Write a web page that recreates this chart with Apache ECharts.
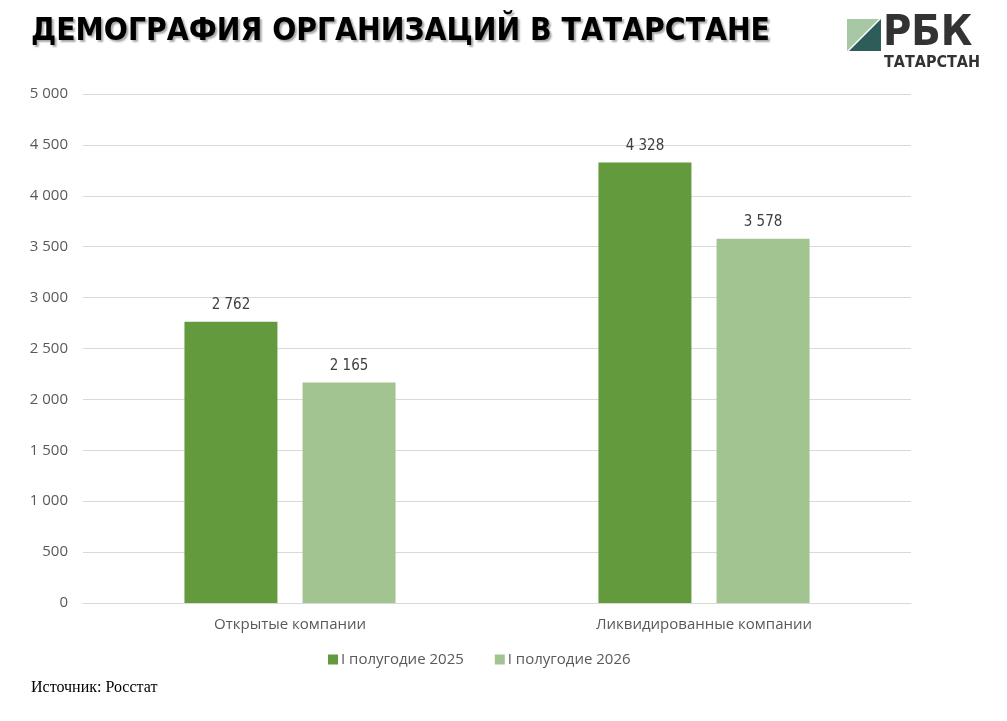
<!DOCTYPE html>
<html>
<head>
<meta charset="utf-8">
<script src="https://cdn.jsdelivr.net/npm/echarts@6/dist/echarts.min.js"></script>
<style>
  html, body { margin: 0; padding: 0; background: #fff; }
  #chart { width: 1007px; height: 721px; }
</style>
</head>
<body>
<div id="chart"></div>
<script>
// категории и значения
const categories = ['Открытые компании', 'Ликвидированные компании'];
const seriesNames = ['I полугодие 2025', 'I полугодие 2026'];
const values2025 = [2762, 4328];
const values2026 = [2165, 3578];
const seriesColors = ['#629a3d', '#a1c490'];

// разделитель тысяч пробелом
const fmt = v => String(v).replace(/\B(?=(\d{3})+(?!\d))/g, ' ');

const chart = echarts.init(document.getElementById('chart'), null, { renderer: 'canvas' });

const labelStyle = {
  show: true,
  position: 'top',
  distance: 9,
  color: '#404040',
  fontFamily: '"DejaVu Sans Condensed", sans-serif',
  fontSize: 15,
  formatter: p => fmt(p.value)
};

const option = {
  backgroundColor: '#fff',
  animation: false,
  grid: { left: 83, right: 96, top: 94, bottom: 118 },
  legend: {
    left: 323,
    top: 647,
    itemWidth: 10,
    itemHeight: 10,
    itemGap: 31,
    icon: 'rect',
    textStyle: { color: '#595959', fontSize: 15, fontFamily: '"Open Sans", sans-serif', padding: [0, 0, 0, -2] },
    data: seriesNames
  },
  xAxis: {
    type: 'category',
    data: categories,
    axisLine: { lineStyle: { color: '#d9d9d9' } },
    axisTick: { show: false },
    axisLabel: { color: '#595959', fontSize: 15, margin: 14, fontFamily: '"Open Sans", sans-serif' }
  },
  yAxis: {
    type: 'value',
    min: 0,
    max: 5000,
    interval: 500,
    axisLine: { show: false },
    axisTick: { show: false },
    splitLine: { lineStyle: { color: '#d9d9d9' } },
    axisLabel: { color: '#595959', fontSize: 15, margin: 15, fontFamily: '"Open Sans", sans-serif', formatter: v => fmt(v) }
  },
  series: [
    {
      name: seriesNames[0],
      type: 'bar',
      data: values2025,
      barWidth: 93,
      barGap: '27%',
      itemStyle: { color: seriesColors[0] },
      label: labelStyle
    },
    {
      name: seriesNames[1],
      type: 'bar',
      data: values2026,
      barWidth: 93,
      itemStyle: { color: seriesColors[1] },
      label: labelStyle
    }
  ],
  graphic: [
    // заголовок
    {
      type: 'text',
      left: 31,
      top: 16,
      style: {
        text: 'ДЕМОГРАФИЯ ОРГАНИЗАЦИЙ В ТАТАРСТАНЕ',
        fill: '#000',
        font: 'bold 31.5px "DejaVu Sans Condensed", sans-serif',
        textShadowColor: 'rgba(0,0,0,0.35)',
        textShadowOffsetX: 2,
        textShadowOffsetY: 2,
        textShadowBlur: 2
      }
    },
    // логотип РБК
    {
      type: 'polygon',
      shape: { points: [[847, 19], [879, 19], [847, 51]] },
      style: { fill: '#a6c8a4' }
    },
    {
      type: 'polygon',
      shape: { points: [[881, 19], [881, 51], [849, 51]] },
      style: { fill: '#2e5c58' }
    },
    {
      type: 'text',
      left: 883,
      top: 12,
      style: { text: 'РБК', fill: '#333', font: 'bold 43px "DejaVu Sans Condensed", sans-serif' }
    },
    {
      type: 'text',
      left: 884,
      top: 55,
      style: { text: 'ТАТАРСТАН', fill: '#333', font: 'bold 16px "DejaVu Sans Condensed", sans-serif' }
    },
    // источник
    {
      type: 'text',
      left: 31,
      top: 680,
      style: { text: 'Источник: Росстат', fill: '#000', font: '16px "Liberation Serif", serif' }
    }
  ]
};

chart.setOption(option);
</script>
</body>
</html>
